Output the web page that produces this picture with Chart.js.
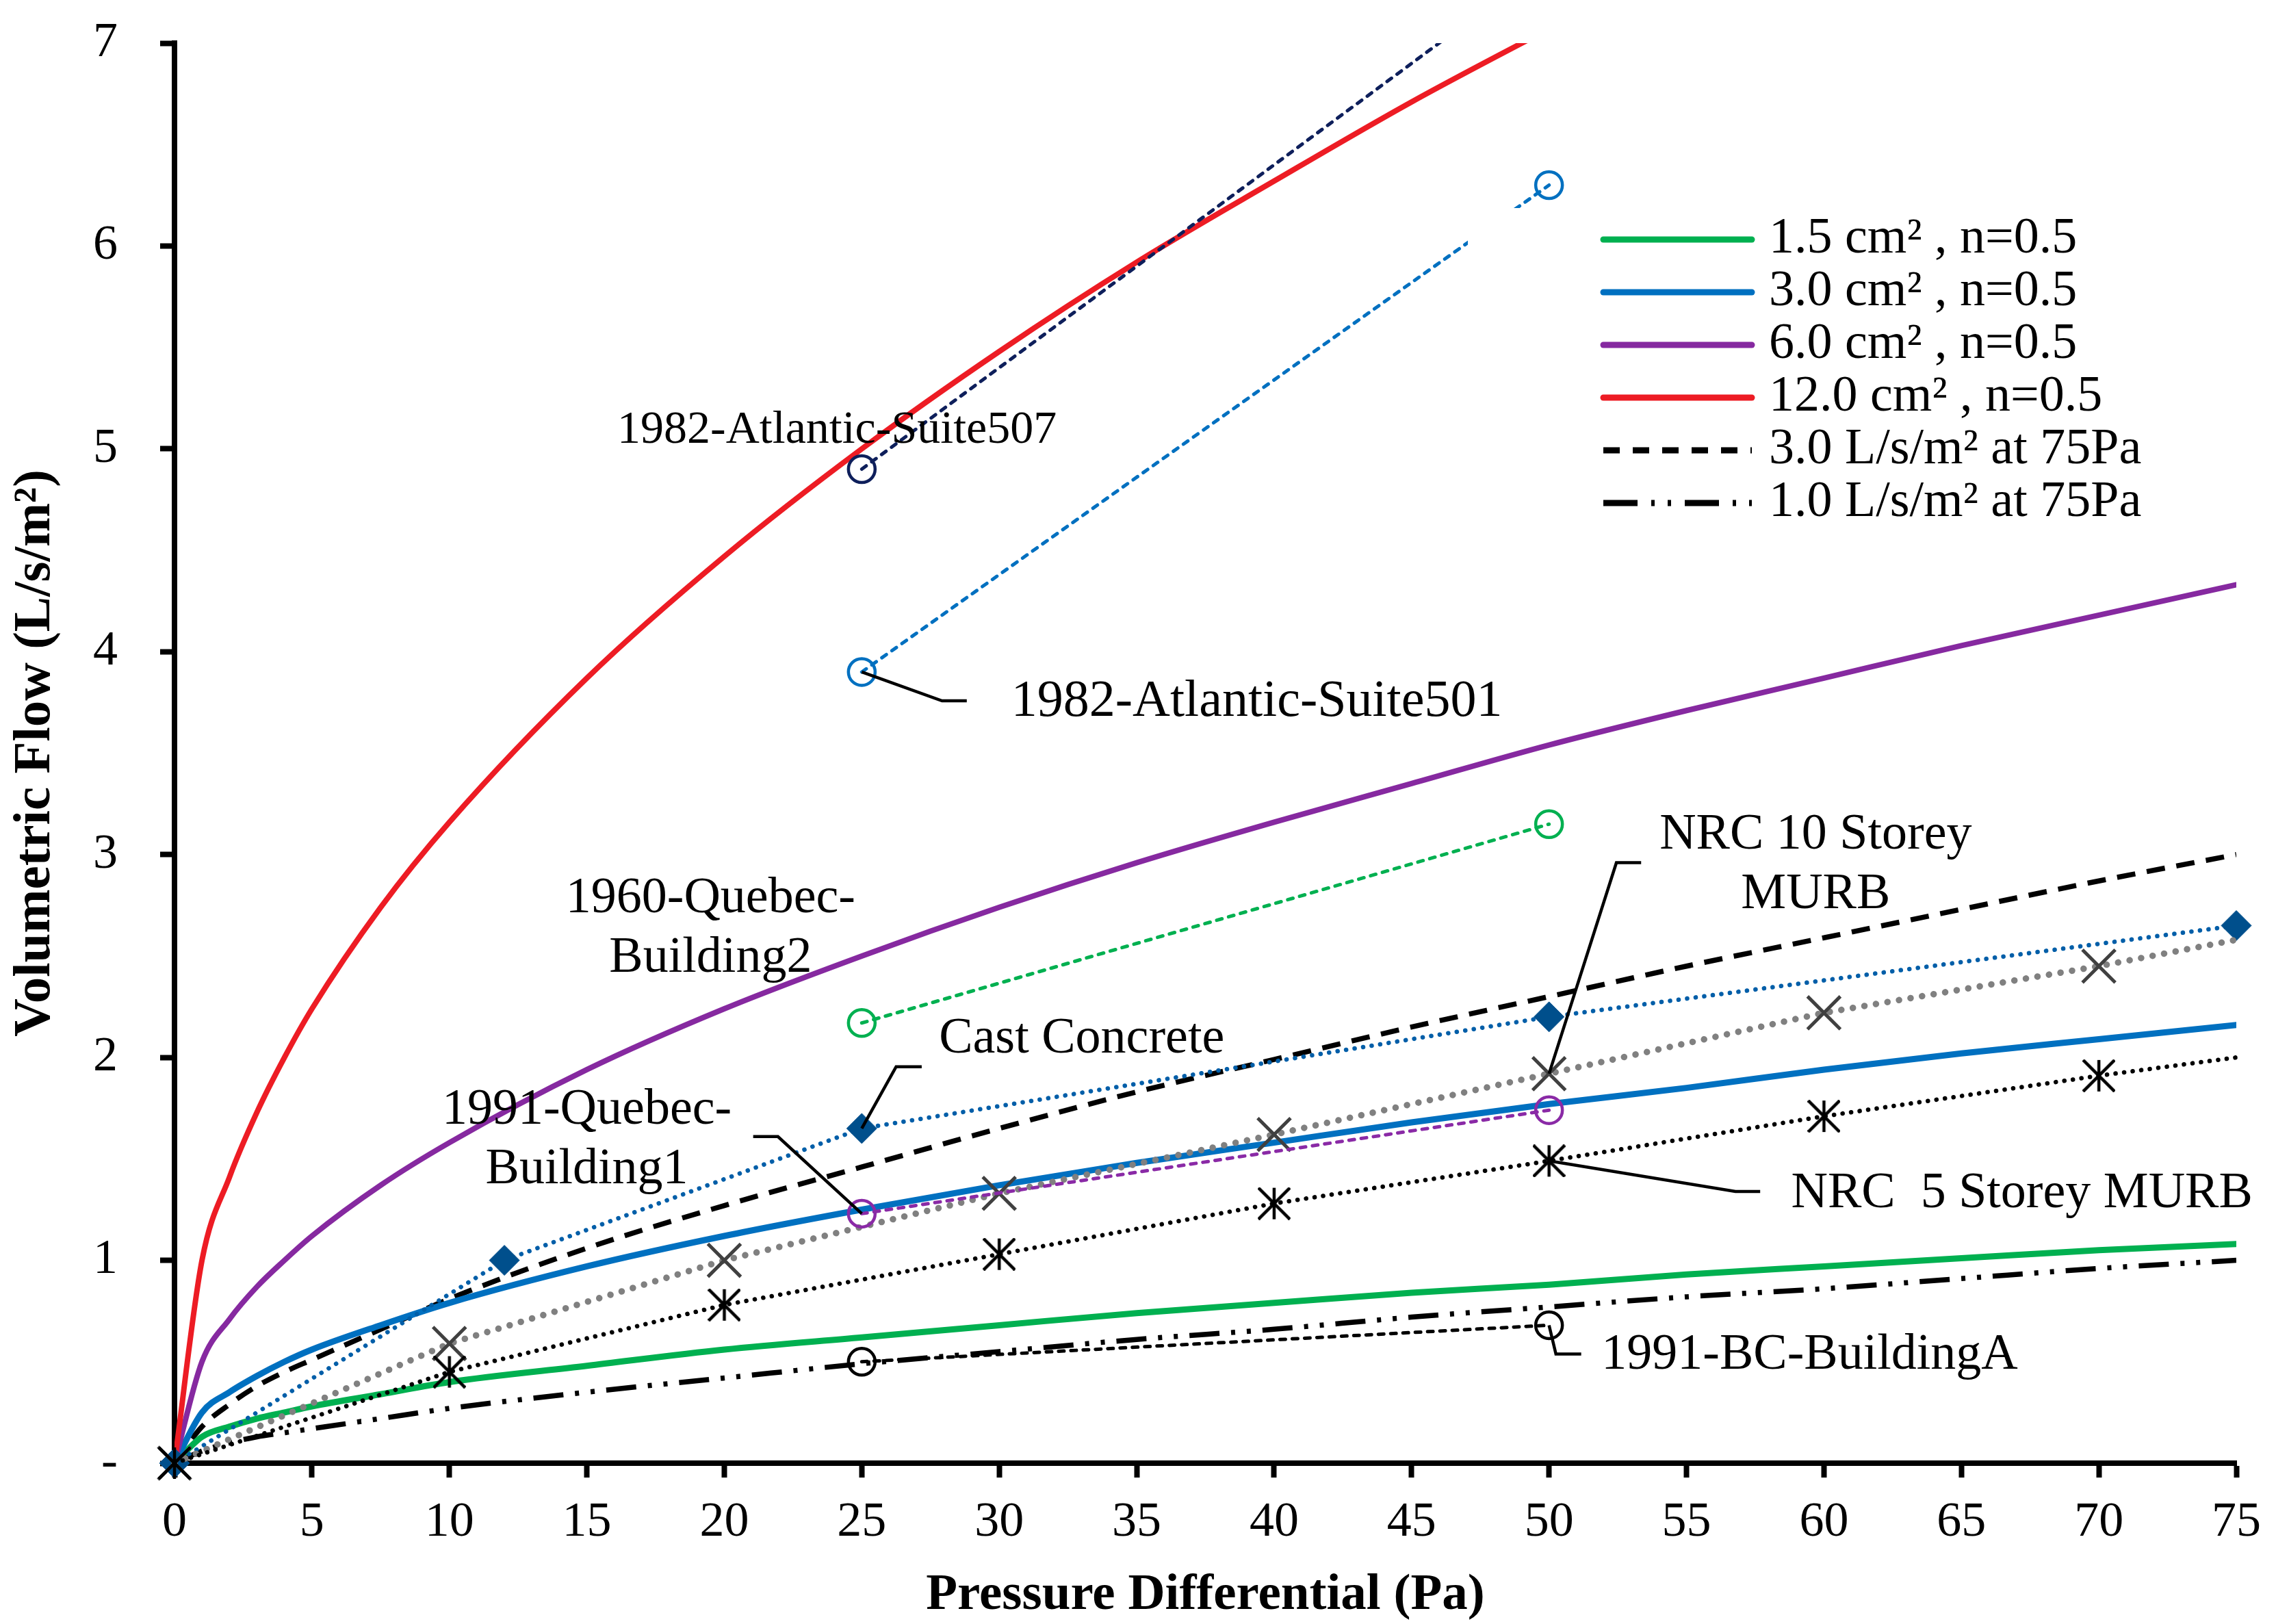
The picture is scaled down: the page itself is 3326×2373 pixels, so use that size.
<!DOCTYPE html>
<html><head><meta charset="utf-8">
<script src="https://cdn.jsdelivr.net/npm/chart.js@4"></script>
<style>html,body{margin:0;padding:0;background:#fff;}canvas{display:block;}</style>
</head><body>
<canvas id="c" width="3326" height="2373"></canvas>
<script>
// ---------- data ----------
const pressureFine = [0, 1, 2, 3, 4, 5, 7.5, 10, 15, 20, 25, 30, 35, 40, 45, 50, 55, 60, 65, 70, 75];
const flowELA15  = [0, 0.13, 0.18, 0.22, 0.25, 0.28, 0.34, 0.40, 0.48, 0.56, 0.62, 0.68, 0.74, 0.79, 0.84, 0.88, 0.93, 0.97, 1.01, 1.05, 1.08];
const flowELA30  = [0, 0.25, 0.35, 0.43, 0.50, 0.56, 0.68, 0.79, 0.97, 1.12, 1.25, 1.37, 1.48, 1.58, 1.68, 1.77, 1.85, 1.94, 2.02, 2.09, 2.16];
const flowELA60  = [0, 0.50, 0.71, 0.87, 1.00, 1.12, 1.37, 1.58, 1.94, 2.24, 2.50, 2.74, 2.96, 3.16, 3.35, 3.54, 3.71, 3.87, 4.03, 4.18, 4.33];
const flowELA120 = [0, 1.00, 1.41, 1.73, 2.00, 2.24, 2.74, 3.16, 3.87, 4.47, 5.00, 5.48, 5.92, 6.32, 6.71, 7.07, 7.42, 7.75, 8.06, 8.37, 8.66];
const flowTarget3 = [0, 0.18, 0.29, 0.38, 0.45, 0.51, 0.66, 0.81, 1.06, 1.27, 1.46, 1.65, 1.83, 1.99, 2.15, 2.30, 2.45, 2.59, 2.73, 2.87, 3.00];
const flowTarget1 = [0, 0.06, 0.10, 0.13, 0.15, 0.17, 0.22, 0.27, 0.35, 0.42, 0.49, 0.55, 0.61, 0.66, 0.72, 0.77, 0.82, 0.86, 0.91, 0.96, 1.00];

const pressureCast = [0, 12, 25, 50, 75];
const flowCast     = [0, 1.00, 1.65, 2.20, 2.65];

const pressureNRC = [0, 10, 20, 30, 40, 50, 60, 70, 75];
const flowNRC10   = [0, 0.59, 1.00, 1.33, 1.62, 1.92, 2.22, 2.45, 2.58];
const flowNRC5    = [0, 0.45, 0.78, 1.03, 1.28, 1.49, 1.71, 1.91, 2.00];

const pressureField = [25, 50];
const flowSuite507  = [4.90, 7.40];
const flowSuite501  = [3.90, 6.30];
const flowQuebecB2  = [2.17, 3.15];
const flowQuebecB1  = [1.23, 1.74];
const flowBCA       = [0.50, 0.68];

const xTickValues = [0, 5, 10, 15, 20, 25, 30, 35, 40, 45, 50, 55, 60, 65, 70, 75];
const yTickValues = [0, 1, 2, 3, 4, 5, 6, 7];
const yTickLabels = ['-', '1', '2', '3', '4', '5', '6', '7'];

const legendLabels = ['1.5 cm² , n=0.5', '3.0 cm² , n=0.5', '6.0 cm² , n=0.5', '12.0 cm² , n=0.5', '3.0 L/s/m² at 75Pa', '1.0 L/s/m² at 75Pa'];
const calloutTexts = [
  ['1982-Atlantic-Suite507'],
  ['1982-Atlantic-Suite501'],
  ['1960-Quebec-', 'Building2'],
  ['Cast Concrete'],
  ['1991-Quebec-', 'Building1'],
  ['NRC 10 Storey', 'MURB'],
  ['NRC  5 Storey MURB'],
  ['1991-BC-BuildingA']
];
const xTitle = 'Pressure Differential (Pa)';
const yTitle = 'Volumetric Flow (L/s/m²)';

// ---------- helpers ----------
const FONT = '"Liberation Serif", "Times New Roman", serif';
const pts = (xs, ys) => xs.map((x, i) => ({x: x, y: ys[i]}));

function makeAsterisk(size, lw, color) {
  const c = document.createElement('canvas');
  c.width = size; c.height = size;
  const g = c.getContext('2d');
  g.strokeStyle = color; g.lineWidth = lw; g.lineCap = 'butt';
  const m = size / 2, h = size / 2 - 1;
  g.beginPath();
  g.moveTo(m - h, m - h); g.lineTo(m + h, m + h);
  g.moveTo(m + h, m - h); g.lineTo(m - h, m + h);
  g.moveTo(m, m - h); g.lineTo(m, m + h);
  g.stroke();
  return c;
}
const asterisk = makeAsterisk(48, 4.5, '#000');
const hideAtEnd = r => (ctx) => (ctx.raw && ctx.raw.x === 75 ? 0 : r);

const fieldLine = (label, xs, ys, color) => ({
  label: label, data: pts(xs, ys), borderColor: color, borderWidth: 5,
  borderDash: [8, 10], borderCapStyle: 'round', tension: 0,
  pointStyle: 'circle', pointRadius: 19.5, pointBorderWidth: 4.5,
  pointBorderColor: color, pointBackgroundColor: 'rgba(0,0,0,0)'
});

const theory = (label, ys, color, width) => ({
  label: label, data: pts(pressureFine, ys), borderColor: color, borderWidth: width,
  cubicInterpolationMode: 'monotone', pointRadius: 0, borderCapStyle: 'round', borderJoinStyle: 'round'
});

const datasets = [
  fieldLine('1982-Atlantic-Suite507', pressureField, flowSuite507, '#0e1f5b'),
  fieldLine('1982-Atlantic-Suite501', pressureField, flowSuite501, '#0070c0'),
  fieldLine('1960-Quebec-Building2', pressureField, flowQuebecB2, '#00b050'),
  fieldLine('1991-Quebec-Building1', pressureField, flowQuebecB1, '#8a2aa6'),
  fieldLine('1991-BC-BuildingA', pressureField, flowBCA, '#000000'),
  {
    label: 'NRC 5 Storey MURB', data: pts(pressureNRC, flowNRC5), borderColor: '#000', borderWidth: 6.5,
    borderDash: [0.1, 12.5], borderCapStyle: 'round', tension: 0, clip: false,
    pointStyle: asterisk, pointRadius: hideAtEnd(20)
  },
  {
    label: 'NRC 10 Storey MURB', data: pts(pressureNRC, flowNRC10), borderColor: '#808080', borderWidth: 9.5,
    borderDash: [0.1, 17], borderCapStyle: 'round', tension: 0, clip: false,
    pointStyle: 'crossRot', pointRadius: hideAtEnd(34), pointBorderWidth: 5,
    pointBorderColor: '#404040'
  },
  {
    label: 'Cast Concrete', data: pts(pressureCast, flowCast), borderColor: '#005ea8', borderWidth: 6.5,
    borderDash: [0.1, 12.5], borderCapStyle: 'round', tension: 0, clip: false,
    pointStyle: 'rectRot', pointRadius: 22, pointBorderWidth: 1,
    pointBackgroundColor: '#004f8c', pointBorderColor: '#004f8c'
  },
  theory('12.0 cm² , n=0.5', flowELA120, '#ed1c24', 8),
  theory('6.0 cm² , n=0.5', flowELA60, '#8629a0', 8),
  theory('3.0 cm² , n=0.5', flowELA30, '#0070c0', 9),
  theory('1.5 cm² , n=0.5', flowELA15, '#00b050', 9),
  Object.assign(theory('3.0 L/s/m² at 75Pa', flowTarget3, '#000', 7.5), {borderDash: [27, 17], borderCapStyle: 'butt'}),
  Object.assign(theory('1.0 L/s/m² at 75Pa', flowTarget1, '#000', 7.5), {borderDash: [44, 17, 6, 17, 6, 17], borderCapStyle: 'butt'})
];

// ---------- overlay plugin: in-plot legend box and call-out labels ----------
const overlay = {
  id: 'overlay',
  afterDatasetsDraw(chart, args, opts) {
    const {ctx} = chart;
    const xs = chart.scales.x, ys = chart.scales.y;
    const px = v => xs.getPixelForValue(v), py = v => ys.getPixelForValue(v);
    ctx.save();
    const L = opts.legend;
    ctx.fillStyle = '#fff';
    ctx.fillRect(L.box[0], L.box[1], L.box[2], L.box[3]);
    L.items.forEach((it, i) => {
      const y = L.firstRow + i * L.rowGap;
      ctx.beginPath();
      ctx.strokeStyle = it.color; ctx.lineWidth = it.width;
      ctx.setLineDash(it.dash); ctx.lineCap = it.cap;
      ctx.moveTo(L.lineX0, y); ctx.lineTo(L.lineX1, y); ctx.stroke();
      ctx.setLineDash([]);
      ctx.font = L.fontSize + 'px ' + FONT;
      ctx.fillStyle = '#000'; ctx.textAlign = 'left'; ctx.textBaseline = 'middle';
      ctx.fillText(legendLabels[i], L.textX, y);
    });
    opts.callouts.forEach((c, i) => {
      if (c.leader) {
        ctx.beginPath();
        ctx.strokeStyle = '#000'; ctx.lineWidth = 4.5; ctx.setLineDash([]); ctx.lineCap = 'butt'; ctx.lineJoin = 'miter';
        c.leader.forEach((p, k) => k ? ctx.lineTo(px(p[0]), py(p[1])) : ctx.moveTo(px(p[0]), py(p[1])));
        ctx.stroke();
      }
      ctx.font = c.size + 'px ' + FONT;
      ctx.fillStyle = '#000'; ctx.textAlign = 'center'; ctx.textBaseline = 'middle';
      calloutTexts[i].forEach((t, k) => ctx.fillText(t, px(c.at[0]), py(c.at[1]) + k * 87));
    });
    ctx.restore();
  }
};

new Chart(document.getElementById('c'), {
  type: 'line',
  data: {datasets: datasets},
  plugins: [overlay],
  options: {
    responsive: false, devicePixelRatio: 1, animation: false, events: [],
    layout: {padding: {top: 63, right: 58, left: 0, bottom: 0}},
    elements: {line: {fill: false}},
    plugins: {
      legend: {display: false}, tooltip: {enabled: false},
      overlay: {
        legend: {
          box: [2145, 304, 1170, 476], firstRow: 350, rowGap: 77,
          lineX0: 2343, lineX1: 2560, textX: 2585, fontSize: 74,
          items: [
            {color: '#00b050', width: 9, dash: [], cap: 'round'},
            {color: '#0070c0', width: 9, dash: [], cap: 'round'},
            {color: '#8629a0', width: 9, dash: [], cap: 'round'},
            {color: '#ed1c24', width: 9, dash: [], cap: 'round'},
            {color: '#000', width: 9, dash: [24, 19], cap: 'butt'},
            {color: '#000', width: 9, dash: [50, 20, 5, 19, 5, 20], cap: 'butt'}
          ]
        },
        callouts: [
          {at: [24.1, 5.09], size: 68},
          {at: [39.37, 3.75], size: 76, leader: [[25, 3.9], [27.92, 3.758], [28.82, 3.758]]},
          {at: [19.5, 2.78], size: 74},
          {at: [33.0, 2.09], size: 74, leader: [[25, 1.65], [26.25, 1.954], [27.18, 1.954]]},
          {at: [15.0, 1.74], size: 74, leader: [[25, 1.23], [21.95, 1.61], [21.05, 1.61]]},
          {at: [59.7, 3.095], size: 74, leader: [[50, 1.92], [52.45, 2.96], [53.35, 2.96]]},
          {at: [67.2, 1.328], size: 74, leader: [[50, 1.49], [56.78, 1.339], [57.68, 1.339]]},
          {at: [59.48, 0.53], size: 74, leader: [[50, 0.68], [50.25, 0.538], [51.17, 0.538]]}
        ]
      }
    },
    scales: {
      x: {
        type: 'linear', min: 0, max: 75,
        afterBuildTicks: s => { s.ticks = xTickValues.map(v => ({value: v})); },
        afterFit: s => { s.height = 235; s.paddingLeft = 0; s.paddingRight = 0; },
        ticks: {autoSkip: false, maxRotation: 0, minRotation: 0, color: '#000', padding: 23,
                font: {family: FONT, size: 72}},
        grid: {drawOnChartArea: false, drawTicks: true, tickLength: 21, tickWidth: 8, tickColor: '#000'},
        border: {display: true, color: '#000', width: 8},
        title: {display: true, text: xTitle, color: '#000', padding: {top: 0, bottom: 4},
                font: {family: FONT, size: 75, weight: 'bold', lineHeight: 1}}
      },
      y: {
        type: 'linear', min: 0, max: 7,
        afterBuildTicks: s => { s.ticks = yTickValues.map(v => ({value: v})); },
        afterFit: s => { s.width = 255; s.paddingTop = 0; s.paddingBottom = 0; },
        ticks: {color: '#000', padding: 62, font: {family: FONT, size: 72},
                callback: (v) => yTickLabels[yTickValues.indexOf(v)]},
        grid: {drawOnChartArea: false, drawTicks: true, tickLength: 21, tickWidth: 8, tickColor: '#000'},
        border: {display: true, color: '#000', width: 8},
        title: {display: true, text: yTitle, color: '#000', padding: {top: 14, bottom: 0},
                font: {family: FONT, size: 77, weight: 'bold', lineHeight: 1}}
      }
    }
  }
});
</script>
</body></html>
